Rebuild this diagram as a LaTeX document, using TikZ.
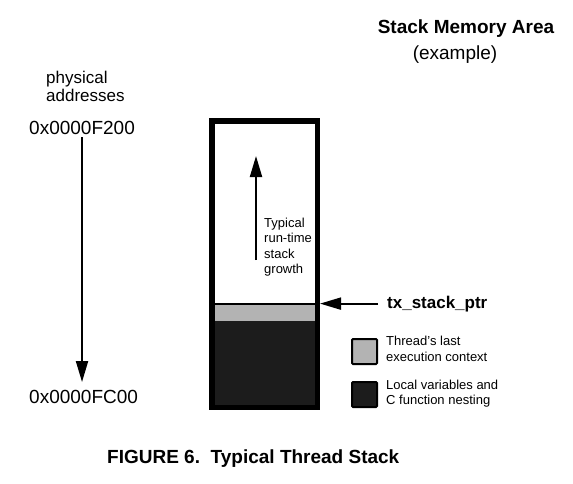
\documentclass[tikz,border=0pt]{standalone}
\usepackage{fontspec}
\setmainfont{Liberation Sans}
\usetikzlibrary{arrows.meta}
\definecolor{ctxgray}{HTML}{B3B3B3}
\definecolor{localdark}{HTML}{1C1C1C}
\begin{document}
\begin{tikzpicture}[x=1pt,y=-1pt,
    big/.style={font=\fontsize{19}{22}\selectfont, inner sep=0pt},
    small/.style={font=\fontsize{13}{15.3}\selectfont, inner sep=0pt, align=left},
    legendbox/.style={draw, line width=2pt, minimum size=25pt, inner sep=0pt, rounded corners=1pt},
    ptr/.style={line width=2pt, -{Triangle[length=21pt,width=12pt]}}]
  \useasboundingbox (0,0) rectangle (573,483);
  \fill[white] (0,0) rectangle (573,483);
  \fill[localdark] (214,321) rectangle (315,407);
  \fill[ctxgray] (214,305) rectangle (315,321);
  \draw[line width=2pt] (214,304) -- (315,304);
  \draw[line width=5.5pt] (211.75,120.75) rectangle (317.25,407.25);
  \coordinate (sp) at (320,304);
  \coordinate (gtail) at (256,260);
  \coordinate (gtip) at (256,156);
  \draw
    (466,33) node[big, anchor=base] (title) {\bfseries Stack Memory Area}
    (455,59) node[big, anchor=base] (example) {(example)}
    (46,86) node[font=\fontsize{17}{18}\selectfont, inner sep=0pt, align=left, anchor=west] (phys) {physical\\addresses}
    (29,134) node[big, anchor=base west] (top) {0x0000F200}
    (29,403) node[big, anchor=base west] (bottom) {0x0000FC00}
    (264,247) node[small, anchor=west] (growth) {Typical\\run-time\\stack\\growth}
    (387,308) node[font=\fontsize{17}{20}\selectfont\bfseries, inner sep=0pt, anchor=base west] (txptr) {tx\_stack\_ptr}
    (364.5,351.5) node[legendbox, fill=ctxgray] (ctxbox) {}
    (364.5,394.5) node[legendbox, fill=localdark] (localbox) {}
    (386,349.3) node[small, font=\fontsize{13}{16}\selectfont, anchor=west] (ctxtext) {Thread's last\\execution context}
    (386,394) node[small, font=\fontsize{13}{15}\selectfont, anchor=west] (localtext) {Local variables and\\C function nesting}
    (107,463) node[big, font=\fontsize{19}{22}\selectfont\bfseries, anchor=base west] (caption) {FIGURE 6.\ \ Typical Thread Stack};
  \begin{scope}[ptr]
    \draw[shorten <=3pt, shorten >=7.5pt] (top.south) to (top.south |- bottom.north);
    \draw (gtail) to (gtip);
    \draw[shorten <=9pt] (txptr.west) to (txptr.west -| sp);
  \end{scope}
\end{tikzpicture}
\end{document}
